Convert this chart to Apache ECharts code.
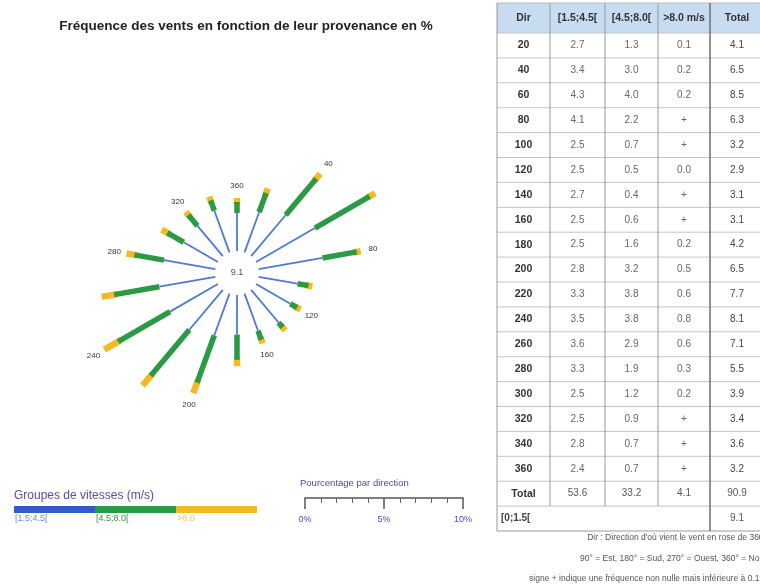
<!DOCTYPE html>
<html>
<head>
<meta charset="utf-8">
<script src="https://cdn.jsdelivr.net/npm/echarts@6/dist/echarts.min.js"></script>
<style>
html,body{margin:0;padding:0;background:#fff;}
#c{width:760px;height:584px;}
</style>
</head>
<body>
<div id="c"></div>
<script>
// ---- data ----
const directions = [20,40,60,80,100,120,140,160,180,200,220,240,260,280,300,320,340,360];
const speedLow  = [2.7,3.4,4.3,4.1,2.5,2.5,2.7,2.5,2.5,2.8,3.3,3.5,3.6,3.3,2.5,2.5,2.8,2.4];
const speedMid  = [1.3,3.0,4.0,2.2,0.7,0.5,0.4,0.6,1.6,3.2,3.8,3.8,2.9,1.9,1.2,0.9,0.7,0.7];
const speedHigh = [0.1,0.2,0.2,0.05,0.05,0.04,0.05,0.05,0.2,0.5,0.6,0.8,0.6,0.3,0.2,0.05,0.05,0.05];
const speedHighLabels = ['0.1','0.2','0.2','+','+','0.0','+','+','0.2','0.5','0.6','0.8','0.6','0.3','0.2','+','+','+'];
const dirTotals = ['4.1','6.5','8.5','6.3','3.2','2.9','3.1','3.1','4.2','6.5','7.7','8.1','7.1','5.5','3.9','3.4','3.6','3.2'];
const columnTotals = ['53.6','33.2','4.1','90.9'];
const calmLabel = '[0;1.5[';
const calmValue = '9.1';
const tableHeaders = ['Dir','[1.5;4.5[','[4.5;8.0[','>8.0 m/s','Total'];
const speedGroups = ['[1.5;4.5[','[4.5;8.0[','>8.0'];
const scaleTicks = [0,5,10];
const title = 'Fréquence des vents en fonction de leur provenance en %';
const footnotes = [
  "Dir : Direction d'où vient le vent en rose de 360°",
  "90° = Est, 180° = Sud, 270° = Ouest, 360° = Nord",
  "signe + indique une fréquence non nulle mais inférieure à 0.1%"
];

// ---- styles ----
const FONT = '"Liberation Sans", Arial, sans-serif';
const C_BLUE = '#5079d4', C_BLUE_LEG = '#2f5cc6', C_GREEN = '#2b9a44', C_YEL = '#f6b926';
const groupColors = [C_BLUE_LEG, C_GREEN, C_YEL];
const groupTextColors = ['#6a8ede', '#2b9a44', '#f4c647'];

const chart = echarts.init(document.getElementById('c'), null, {renderer:'canvas'});

const roseData = directions.map((d,i)=>[
  speedLow[i]+speedMid[i]+speedHigh[i], d, speedLow[i], speedMid[i], speedHigh[i]
]);

// ---- table graphic ----
const colX = [497, 550, 605, 658, 710, 764];
const headTop = 3, headBottom = 33, rowH = 24.9;
const nRows = directions.length + 2;
const tableBottom = headBottom + nRows*rowH;
const g = [];
g.push({type:'rect', shape:{x:colX[0], y:headTop, width:colX[5]-colX[0], height:headBottom-headTop}, style:{fill:'#c7dbf1'}, z:1});
tableHeaders.forEach((h,j)=>{
  g.push({type:'text', z:3, style:{text:h, x:(colX[j]+colX[j+1])/2, y:(headTop+headBottom)/2, align:'center', verticalAlign:'middle', font:'bold 10.5px '+FONT, fill:'#333'}});
});
const cellText = (txt, col, row, bold, color) => {
  g.push({type:'text', z:3, style:{text:txt, x:(colX[col]+colX[col+1])/2, y:headBottom+rowH*(row+0.5), align:'center', verticalAlign:'middle', font:(bold?'bold 10.5px ':'10px ')+FONT, fill:color}});
};
directions.forEach((d,i)=>{
  cellText(String(d),0,i,true,'#333');
  cellText(speedLow[i].toFixed(1),1,i,false,'#666');
  cellText(speedMid[i].toFixed(1),2,i,false,'#666');
  cellText(speedHighLabels[i],3,i,false,'#666');
  cellText(dirTotals[i],4,i,false,'#444');
});
const totRow = directions.length;
cellText('Total',0,totRow,true,'#333');
columnTotals.forEach((t,j)=>cellText(t,j+1,totRow,false,'#555'));
g.push({type:'text', z:3, style:{text:calmLabel, x:colX[0]+4, y:headBottom+rowH*(totRow+1.5), align:'left', verticalAlign:'middle', font:'bold 10px '+FONT, fill:'#444'}});
cellText(calmValue,4,totRow+1,false,'#555');
// horizontal lines
for (let r=0; r<=nRows; r++) {
  const y = headBottom + r*rowH;
  g.push({type:'line', z:2, shape:{x1:colX[0], y1:y, x2:colX[5], y2:y}, style:{stroke: r===nRows?'#999':'#c4c4c4', lineWidth:1}});
}
g.push({type:'line', z:2, shape:{x1:colX[0], y1:headTop, x2:colX[5], y2:headTop}, style:{stroke:'#bbb', lineWidth:1}});
// vertical lines
colX.forEach((x,j)=>{
  const inner = j>=1 && j<=3;
  const yEnd = inner ? headBottom + (nRows-1)*rowH : tableBottom;
  g.push({type:'line', z:2, shape:{x1:x, y1:headTop, x2:x, y2:yEnd}, style:{stroke: j===4?'#777':'#999', lineWidth: j===4?1.6:1}});
});
// footnotes
footnotes.forEach((t,k)=>{
  g.push({type:'text', z:3, style:{text:t, x:767, y:538+k*20.5, align:'right', verticalAlign:'middle', font:'8.5px '+FONT, fill:'#555'}});
});

// ---- legend graphic ----
g.push({type:'text', style:{text:'Groupes de vitesses (m/s)', x:14, y:496, align:'left', verticalAlign:'middle', font:'12px '+FONT, fill:'#5b4aa6'}});
speedGroups.forEach((s,k)=>{
  const x0 = 14 + k*81;
  g.push({type:'rect', shape:{x:x0, y:506, width:81, height:7}, style:{fill:groupColors[k]}});
  g.push({type:'text', style:{text:s, x:x0+1, y:519, align:'left', verticalAlign:'middle', font:'9px '+FONT, fill:groupTextColors[k]}});
});
g.push({type:'text', style:{text:'Pourcentage par direction', x:300, y:483, align:'left', verticalAlign:'middle', font:'9.5px '+FONT, fill:'#4b48b8'}});

// calm value at centre
const CENTER = [237, 273];
g.push({type:'text', z:5, style:{text:calmValue, x:CENTER[0], y:CENTER[1], align:'center', verticalAlign:'middle', font:'9px '+FONT, fill:'#555'}});

const option = {
  backgroundColor:'#fff',
  animation:false,
  title:{text:title, left:241, top:14, textAlign:'center', textStyle:{fontFamily:FONT, fontSize:13.5, fontWeight:'bold', color:'#222'}},
  polar:{center:CENTER, radius:[22, 180]},
  angleAxis:{type:'value', min:0, max:360, startAngle:90, clockwise:true, show:false},
  radiusAxis:{type:'value', min:0, max:10, show:false},
  grid:{left:305, top:498, width:158, height:0},
  xAxis:{type:'value', min:0, max:10, interval:5,
    axisLine:{show:true, lineStyle:{color:'#555', width:1.5}},
    axisTick:{show:true, inside:false, length:11, lineStyle:{color:'#555', width:1.5}},
    minorTick:{show:true, splitNumber:5, length:5, lineStyle:{color:'#666', width:1}},
    splitLine:{show:false},
    axisLabel:{show:true, margin:17, formatter:v=>scaleTicks.includes(v)?v+'%':'', fontFamily:FONT, fontSize:9, color:'#4b48b8'}
  },
  yAxis:{type:'value', show:false},
  series:[{
    type:'custom',
    coordinateSystem:'polar',
    data:roseData,
    encode:{radius:0, angle:1},
    renderItem:(params, api)=>{
      const a = api.value(1), v1 = api.value(2), v2 = api.value(3), v3 = api.value(4);
      const p0 = api.coord([0,a]), p1 = api.coord([v1,a]), p2 = api.coord([v1+v2,a]), p3 = api.coord([v1+v2+v3,a]);
      const children = [
        {type:'line', shape:{x1:p2[0],y1:p2[1],x2:p3[0],y2:p3[1]}, style:{stroke:C_YEL, lineWidth:6.5, lineCap:'square'}},
        {type:'line', shape:{x1:p1[0],y1:p1[1],x2:p2[0],y2:p2[1]}, style:{stroke:C_GREEN, lineWidth:5.5, lineCap:'butt'}},
        {type:'line', shape:{x1:p0[0],y1:p0[1],x2:p1[0],y2:p1[1]}, style:{stroke:C_BLUE, lineWidth:1.8, lineCap:'butt'}}
      ];
      if (a % 40 === 0) {
        const pl = api.coord([v1+v2+v3+1.0, a]);
        children.push({type:'text', style:{text:String(a), x:pl[0], y:pl[1], align:'center', verticalAlign:'middle', font:'8px '+FONT, fill:'#333'}});
      }
      return {type:'group', children};
    }
  }],
  graphic:{elements:g}
};
chart.setOption(option);
</script>
</body>
</html>
